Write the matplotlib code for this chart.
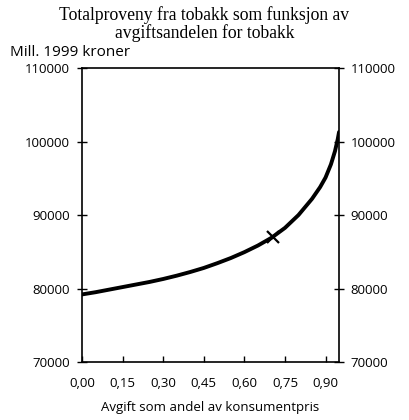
import numpy as np
import matplotlib.pyplot as plt
from matplotlib.ticker import FuncFormatter

# andel avgift og totalproveny (mill. 1999 kroner)
andel = [0.00, 0.05, 0.10, 0.15, 0.20, 0.25, 0.30, 0.35, 0.40, 0.45, 0.50,
         0.55, 0.60, 0.65, 0.70, 0.75, 0.80, 0.85, 0.88, 0.90, 0.92, 0.935,
         0.945, 0.95]
proveny = [79200, 79500, 79850, 80200, 80550, 80900, 81300, 81750, 82250,
           82800, 83450, 84150, 84950, 85850, 86900, 88250, 90000, 92200,
           93800, 95100, 96900, 98700, 100300, 101300]
dagens_andel = [0.705]
dagens_proveny = [87000]

xticks = [0.00, 0.15, 0.30, 0.45, 0.60, 0.75, 0.90]
yticks = [70000, 80000, 90000, 100000, 110000]

plt.rcParams["font.family"] = ["Open Sans", "DejaVu Sans"]

fig = plt.figure(figsize=(4.09, 4.20), dpi=100)
ax = fig.add_axes([0.2005, 0.138, 0.6285, 0.700])

ax.plot(andel, proveny, color="black", linewidth=2.8, solid_capstyle="round",
        solid_joinstyle="round")
ax.plot(dagens_andel, dagens_proveny, marker="x", color="black",
        markersize=9, markeredgewidth=1.6, linestyle="none")

ax.set_xlim(0, 0.95)
ax.set_ylim(70000, 110000)
ax.set_xticks(xticks)
ax.set_yticks(yticks)
ax.xaxis.set_major_formatter(FuncFormatter(lambda v, p: f"{v:.2f}".replace(".", ",")))
ax.yaxis.set_major_formatter(FuncFormatter(lambda v, p: f"{int(v)}"))

ax.tick_params(axis="y", direction="inout", length=7, width=1, labelsize=9.5,
               right=True, labelright=True, pad=5)
ax.tick_params(axis="x", direction="in", length=4, width=1, labelsize=9.5, pad=11)
for s in ax.spines.values():
    s.set_linewidth(1.2)

ax.set_xlabel("Avgift som andel av konsumentpris", fontsize=9.5, labelpad=8)
fig.text(0.024, 0.874, "Mill. 1999 kroner", fontsize=11, ha="left", va="center")
fig.text(0.50, 0.943, "Totalproveny fra tobakk som funksjon av\navgiftsandelen for tobakk",
         fontsize=12.7, family="Liberation Serif", ha="center", va="center",
         linespacing=1.0)

fig.savefig("out.png", dpi=100)
